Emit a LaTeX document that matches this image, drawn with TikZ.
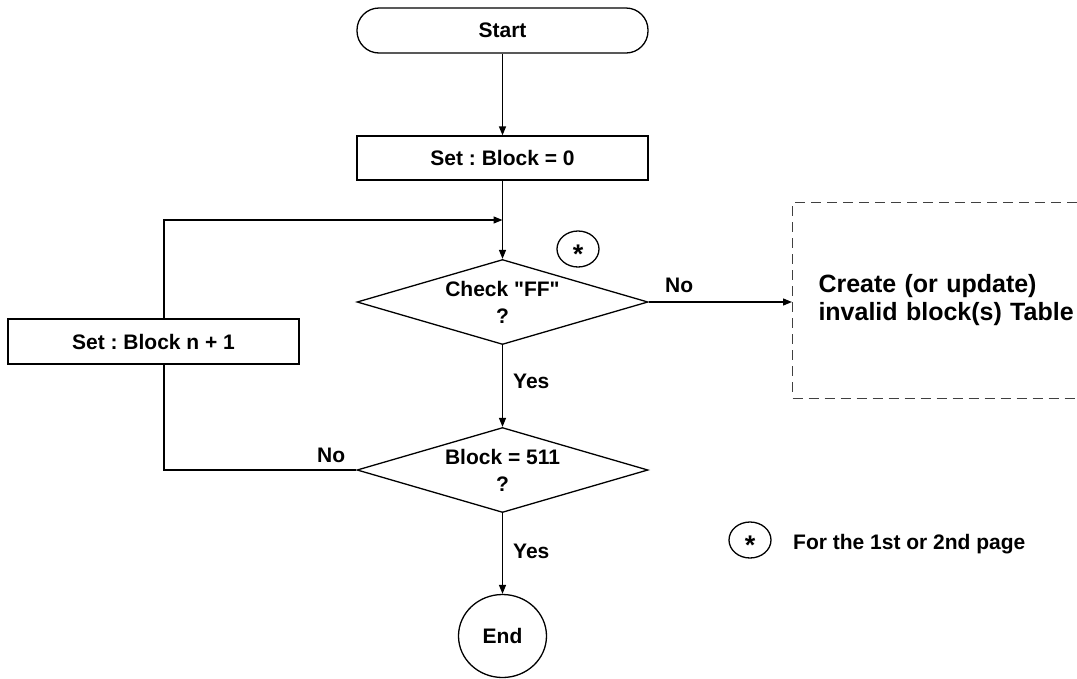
\documentclass[tikz,border=0pt]{standalone}
\usepackage{fontspec}
\setmainfont{Liberation Sans}[Ligatures=TeXOff]
\usetikzlibrary{shapes.geometric,arrows.meta}
\frenchspacing
\begin{document}
\begin{tikzpicture}[x=1pt,y=-1pt,
  every node/.style={font=\bfseries\fontsize{21}{27}\selectfont},
  line/.style={line width=1.3pt},
  arr/.style={line, -{Triangle[length=9pt,width=7pt]}},
  procbox/.style={draw, line width=1.3pt, rectangle, minimum width=291pt, minimum height=44pt, inner sep=0pt},
  decision/.style={draw, line width=1.3pt, diamond, shape aspect=3.45, minimum width=291pt, minimum height=85pt, inner sep=0pt, align=center},
  starmark/.style={draw, ellipse, line width=1.3pt, minimum width=42pt, minimum height=36pt, inner sep=0pt,
    label={[font=\bfseries\fontsize{27}{27}\selectfont, yshift=-5pt]center:*}},
  lbl/.style={anchor=base west, inner sep=0pt}
]
\useasboundingbox (0,0) rectangle (1077,678);
\node[procbox, rounded corners=22pt, minimum height=45pt] (start) at (502.5,30.5) {Start};
\node[procbox] (set0) at (502.5,158) {Set : Block = 0};
\node[decision] (check) at (502.5,302) {Check "FF"\\?};
\node[decision] (blk) at (502.5,470) {Block = 511\\?};
\node[draw, line width=1.3pt, ellipse, minimum width=88pt, minimum height=83pt, inner sep=0pt] (end) at (502.5,636) {End};
\node[procbox, minimum height=45pt] (setn) at (153.5,341.5) {Set : Block n + 1};
\node[draw=black!75, line width=1pt, dash pattern=on 10pt off 6pt, rectangle,
  minimum width=332pt, minimum height=196pt, anchor=west, align=left, text width=280pt,
  inner xsep=26pt, font=\bfseries\fontsize{25}{28}\selectfont] (tbl) at (792,300)
  {Create (or update)\\invalid block(s) Table};
\node[starmark] (st1) at (578,249) {};
\node[starmark] (st2) at (750,540) {};
\node[lbl] (legend) at (793,549) {For the 1st or 2nd page};

\coordinate (merge) at (502.5,220);
\coordinate (lx) at (164,0);

\draw[arr] (start) -- (set0);
\draw[arr] (set0) -- (check);
\draw[arr] (check) -- (blk);
\draw[arr] (blk) -- (end);
\draw[arr] (check.east) -- (check.east -| tbl.west);
\draw[line] (blk.west) -- (blk.west -| lx) -- (setn.south -| lx);
\draw[arr] (setn.north -| lx) |- (merge);

\node[lbl] (no1) at (665,292) {No};
\node[lbl] (no2) at (317,462) {No};
\node[lbl] (yes1) at (513,388) {Yes};
\node[lbl] (yes2) at (513,558) {Yes};
\end{tikzpicture}
\end{document}
